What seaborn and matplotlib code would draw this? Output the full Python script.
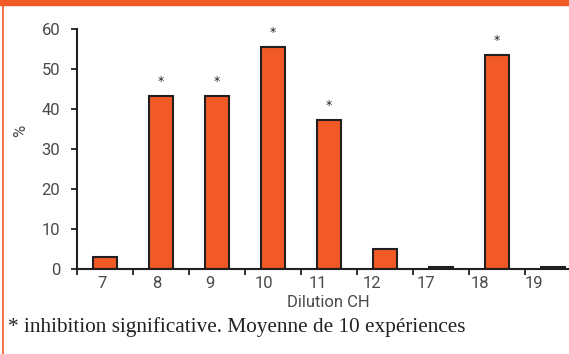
import numpy as np
import pandas as pd
import matplotlib
matplotlib.use("Agg")
import matplotlib.pyplot as plt
from matplotlib.patches import Rectangle
from matplotlib.lines import Line2D
import seaborn as sns

# Inhibition (%) by CH dilution, mean of 10 experiments
dilutions = ["7", "8", "9", "10", "11", "12", "17", "18", "19"]
inhibition = [3.0, 43.2, 43.2, 55.4, 37.2, 5.0, 0.5, 53.4, 0.5]
significant = [False, True, True, True, True, False, False, True, False]
y_ticks = [0, 10, 20, 30, 40, 50, 60]

ORANGE = "#F15A24"
INK = "#231F20"
GREY = "#4A4A4A"

df = pd.DataFrame({"dilution": dilutions, "inhibition": inhibition})

sns.set_theme(style="white")
plt.rcParams["font.family"] = ["Roboto", "DejaVu Sans"]

fig = plt.figure(figsize=(5.69, 3.54), dpi=100)
ax = fig.add_axes([77 / 569, 85 / 354, 492 / 569, 240 / 354])

sns.barplot(data=df, x="dilution", y="inhibition", order=dilutions,
            color=ORANGE, saturation=1, width=0.43,
            edgecolor=INK, linewidth=1.5, ax=ax)

# significance markers above the bars
for i, (v, sig) in enumerate(zip(inhibition, significant)):
    if sig:
        ax.annotate("*", (i, v), xytext=(0, 8), textcoords="offset points",
                    ha="center", va="baseline", fontsize=9, color=INK,
                    family="DejaVu Sans")

ax.set_xlim(-0.5, 8.286)
ax.set_ylim(0, 60)

for side in ("top", "right"):
    ax.spines[side].set_visible(False)
for side in ("left", "bottom"):
    ax.spines[side].set_color(INK)
    ax.spines[side].set_linewidth(1.5)

# y axis
ax.set_yticks(y_ticks, [str(t) for t in y_ticks])
ax.tick_params(axis="y", which="major", direction="out", length=4, width=1.3,
               color=INK, left=True, pad=8, labelsize=12, labelcolor=GREY)

# x axis: tick marks on slot boundaries, labels under the slots
n = len(dilutions)
label_pos = np.arange(n) * 0.963 - 0.045
ax.set_xticks(label_pos, dilutions)
ax.set_xticks(np.arange(n) - 0.5, minor=True)
ax.tick_params(axis="x", which="major", length=0, pad=5,
               labelsize=12, labelcolor=GREY)
ax.tick_params(axis="x", which="minor", direction="out", length=4, width=1.3,
               color=INK, bottom=True)

ax.set_xlabel("Dilution CH", fontsize=12, color=GREY)
ax.xaxis.set_label_coords(0.51, -0.11)
ax.set_ylabel("%", fontsize=12, color=GREY)
ax.yaxis.set_label_coords(-0.10, 0.575)

# footnote
fig.text(8 / 569, 1 - 327 / 354,
         "* inhibition significative. Moyenne de 10 expériences",
         ha="left", va="center", fontsize=15.3, color="#222222",
         family=["Liberation Serif", "DejaVu Serif"])

# orange frame: top band and left rule
fig.patches.append(Rectangle((0, 1 - 5 / 354), 1, 5 / 354,
                             transform=fig.transFigure, color=ORANGE,
                             zorder=5))
fig.lines.append(Line2D([2.5 / 569, 2.5 / 569], [0, 1],
                        transform=fig.transFigure, color=ORANGE,
                        linewidth=1.2, zorder=5))

fig.savefig("out.png", dpi=100)
